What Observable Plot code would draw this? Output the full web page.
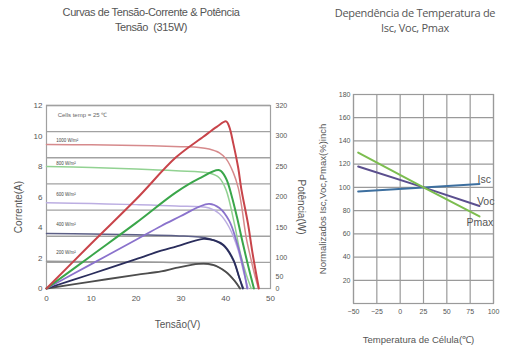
<!DOCTYPE html>
<html><head><meta charset="utf-8">
<script src="https://cdn.jsdelivr.net/npm/d3@7"></script>
<script src="https://cdn.jsdelivr.net/npm/@observablehq/plot@0.6"></script>
<style>
body{margin:0;background:#fff;}
#wrap{position:relative;width:513px;height:350px;overflow:hidden;font-family:"Liberation Sans",Arial,sans-serif;background:#fff;}
.title{position:absolute;text-align:center;color:#555;font-size:11px;line-height:15px;white-space:nowrap;}
#left{position:absolute;left:0;top:95px;}
#right{position:absolute;left:300px;top:85px;}
</style></head>
<body><div id="wrap">
<div class="title" style="left:21px;top:5px;width:260px;letter-spacing:-0.4px">Curvas de Tensão-Corrente &amp; Potência<br>Tensão&nbsp; (315W)</div>
<div class="title" style="left:315px;top:5px;width:200px;font-family:'Open Sans',sans-serif;letter-spacing:-0.3px">Dependência de Temperatura de<br>Isc, Voc, Pmax</div>
<div id="left"></div><div id="right"></div>
</div>
<script>
// ---------- Left chart data: I-V and P-V curves (power drawn on the current scale) ----------
const irradianceLabels = ["1000 W/m²", "800 W/m²", "600 W/m²", "400 W/m²", "200 W/m²"];
const irradianceLabelAmps = [9.72, 8.22, 6.13, 4.17, 2.35];
const cellTempLabel = "Cells temp = 25 ℃";

const iv1000 = [[0,9.45],[10,9.42],[20,9.38],[30,9.3],[34,9.25],[36.3,9.15],[38.6,8.9],[40.1,8.5],[41.7,7.6],[42.8,6.6],[43.5,5.5],[44.6,3.3],[45.5,2.1],[46.3,1.1],[47.3,0]];
const pv1000 = [[0,0],[10,2.95],[20,5.85],[28.9,8.6],[35,9.95],[38,10.6],[40.1,10.96],[40.8,10.6],[41.7,9.5],[42.8,7.9],[43.5,6.5],[45,4.2],[46,2.3],[47.4,0]];
const iv800 = [[0,8.0],[10,7.93],[20,7.84],[28.9,7.72],[36.3,7.57],[38.6,7.25],[40.1,6.45],[41.9,4.3],[43.2,2.4],[44.5,1.0],[45.7,0]];
const pv800 = [[0,0],[10,2.15],[20,4.3],[28.9,6.3],[34,7.2],[38.6,7.76],[40.1,7.2],[41.3,6.1],[42.5,4.7],[43.8,3.0],[45,1.5],[46.3,0]];
const iv600 = [[0,5.62],[10,5.57],[20,5.5],[28.9,5.41],[36.3,5.28],[38.6,4.9],[40.8,4.0],[42.8,2.5],[43.9,1.2],[45,0]];
const pv600 = [[0,0],[10,1.6],[20,3.2],[25.6,4.1],[30,4.75],[34,5.35],[36.3,5.55],[38.6,5.28],[40.8,4.43],[42.4,3.1],[43.9,1.4],[44.8,0]];
const iv400 = [[0,3.6],[10,3.57],[20,3.52],[28.9,3.46],[36.3,3.26],[39.5,2.8],[41.7,1.83],[43,0.72],[44,0]];
const pv400 = [[0,0],[10,0.95],[20,1.92],[25.6,2.48],[28.9,2.75],[35,3.26],[37.5,3.15],[39.5,2.85],[41.7,1.9],[43,0.75],[43.8,0]];
const iv200 = [[0,1.78],[10,1.76],[20,1.74],[28.9,1.7],[35,1.62],[38,1.45],[40,1.1],[42,0.5],[43.2,0]];
const pv200 = [[0,0],[10,0.45],[20,0.9],[25.6,1.12],[28.9,1.35],[34,1.62],[37,1.57],[40,1.1],[42,0.5],[43.2,0]];

const voltTicks = [0, 10, 20, 30, 40, 50];
const ampTicks = [0, 2, 4, 6, 8, 10, 12];
const powerTickLabels = [0, 50, 100, 150, 200, 250, 300, 320];
const powerTickAtAmps = [0, 0.8, 2, 4, 6, 8, 10, 12];
const leftGridAmps = [1.71, 3.43, 5.14, 6.86, 8.57, 10.29, 12];

// ---------- Right chart data: temperature dependence ----------
const temps = [-45, 25, 85];
const iscPct = [96.5, 100, 103];
const vocPct = [118, 100, 84];
const pmaxPct = [130, 100, 75];
const tempTicks = [-50, -25, 0, 25, 50, 75, 100];
const pctTicks = [20, 40, 60, 80, 100, 120, 140, 160, 180];
const seriesLabels = [
  {name: "Isc", t: 82.9, p: 107},
  {name: "Voc", t: 82.2, p: 87.7},
  {name: "Pmax", t: 71, p: 69.4}
];

// ---------- styles ----------
const curveStyles = [
  {pts: iv1000, stroke: "#d68a8c", w: 1.5},
  {pts: iv800, stroke: "#92d292", w: 1.5},
  {pts: iv600, stroke: "#bcaee2", w: 1.5},
  {pts: iv400, stroke: "#5c5f86", w: 1.5},
  {pts: iv200, stroke: "#9a9a9a", w: 1.5},
  {pts: pv200, stroke: "#4d4d4d", w: 1.8},
  {pts: pv400, stroke: "#2a2d5c", w: 1.8},
  {pts: pv600, stroke: "#8a72cc", w: 1.8},
  {pts: pv800, stroke: "#3aa64a", w: 2},
  {pts: pv1000, stroke: "#c8444a", w: 2}
];
const powerMap = new Map(powerTickAtAmps.map((a, i) => [a, powerTickLabels[i]]));
const txt = "#555";

const left = Plot.plot({
  width: 320, height: 250,
  marginLeft: 46, marginRight: 50, marginTop: 10, marginBottom: 57,
  style: {fontFamily: "'Liberation Sans', Arial, sans-serif", color: txt, background: "transparent"},
  x: {domain: [0, 50]},
  y: {domain: [0, 12]},
  marks: [
    Plot.ruleY(leftGridAmps, {stroke: "#a2a2a2", strokeWidth: 1.4}),
    Plot.frame({stroke: "#a0a0a0", strokeWidth: 1.2}),
    ...curveStyles.map(c => Plot.line(c.pts, {x: d => d[0], y: d => d[1], stroke: c.stroke, strokeWidth: c.w, curve: "catmull-rom"})),
    Plot.axisX({ticks: voltTicks, tickSize: 0, tickPadding: 7, fontSize: 8, label: null}),
    Plot.axisY({ticks: ampTicks, tickSize: 0, tickPadding: 4, fontSize: 8, label: null}),
    Plot.axisY({anchor: "right", ticks: powerTickAtAmps, tickFormat: d => powerMap.get(d), tickSize: 0, tickPadding: 5, fontSize: 7, label: null}),
    Plot.text(irradianceLabels, {x: 2.2, y: (d, i) => irradianceLabelAmps[i], text: d => d, textAnchor: "start", fontSize: 4.5, fill: "#444"}),
    Plot.text([cellTempLabel], {x: 2.5, y: 11.35, text: d => d, textAnchor: "start", fontSize: 6, fill: "#666"}),
    Plot.text(["Tensão(V)"], {frameAnchor: "bottom", dx: 19, dy: 39, text: d => d, textAnchor: "middle", fontSize: 10, fill: txt}),
    Plot.text(["Corrente(A)"], {frameAnchor: "left", dx: -28, dy: 10, rotate: -90, text: d => d, textAnchor: "middle", fontSize: 10, fill: txt}),
    Plot.text(["Potência(W)"], {frameAnchor: "right", dx: 31, dy: 10, rotate: 90, text: d => d, textAnchor: "middle", fontSize: 10, fill: txt})
  ]
});
document.getElementById("left").appendChild(left);

const rows = (vals) => temps.map((t, i) => ({t, p: vals[i]}));
const right = Plot.plot({
  width: 213, height: 265,
  marginLeft: 53, marginRight: 20, marginTop: 9, marginBottom: 47,
  style: {fontFamily: "'Liberation Sans', Arial, sans-serif", color: txt, background: "transparent"},
  x: {domain: [-50, 100]},
  y: {domain: [0, 180]},
  marks: [
    Plot.gridX({ticks: tempTicks, stroke: "#9a9a9a", strokeOpacity: 1, strokeWidth: 1.2}),
    Plot.gridY({ticks: pctTicks, stroke: "#9a9a9a", strokeOpacity: 1, strokeWidth: 1.2}),
    Plot.frame({stroke: "#9a9a9a", strokeWidth: 1.2}),
    Plot.line(rows(iscPct), {x: "t", y: "p", stroke: "#3d6f9f", strokeWidth: 2}),
    Plot.line(rows(vocPct), {x: "t", y: "p", stroke: "#5b4f8e", strokeWidth: 2}),
    Plot.line(rows(pmaxPct), {x: "t", y: "p", stroke: "#7cbd4f", strokeWidth: 2}),
    Plot.text(seriesLabels, {x: "t", y: "p", text: "name", textAnchor: "start", fontSize: 10.5, fill: txt}),
    Plot.axisX({ticks: tempTicks, tickSize: 0, tickPadding: 6, fontSize: 7, label: null}),
    Plot.axisY({ticks: pctTicks, tickSize: 0, tickPadding: 3, fontSize: 7, label: null}),
    Plot.text(["Temperatura de Célula(℃)"], {frameAnchor: "bottom", dx: -5, dy: 39, text: d => d, textAnchor: "middle", fontSize: 9.5, fill: txt}),
    Plot.text(["Normalizados Isc,Voc,Pmax(%)inch"], {frameAnchor: "left", dx: -31, rotate: -90, text: d => d, textAnchor: "middle", fontSize: 9.5, fill: txt})
  ]
});
document.getElementById("right").appendChild(right);
</script>
</body></html>
